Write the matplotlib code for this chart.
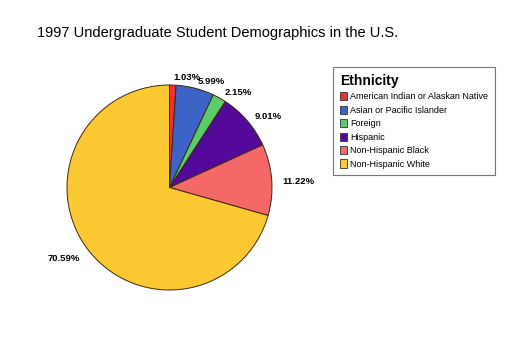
import matplotlib
matplotlib.use("Agg")
import matplotlib.pyplot as plt
import matplotlib.transforms as mtransforms
from matplotlib.patches import Patch

categories = ["American Indian or Alaskan Native", "Asian or Pacific Islander",
              "Foreign", "Hispanic", "Non-Hispanic Black", "Non-Hispanic White"]
values = [1.03, 5.99, 2.15, 9.01, 11.22, 70.59]
labels = ["1.03%", "5.99%", "2.15%", "9.01%", "11.22%", "70.59%"]
colors = ["#ec3137", "#3c64c8", "#5ccb6a", "#54099a", "#f56868", "#fcc832"]

W, H = 520, 357
fig = plt.figure(figsize=(W / 100, H / 100), dpi=100)
fig.patch.set_facecolor("white")

cx, cy, r = 169.5, 187.5, 102.5
ax = fig.add_axes([(cx - r) / W, (H - cy - r) / H, 2 * r / W, 2 * r / H])
ax.axis("off")

wedges, texts = ax.pie(values, labels=labels, colors=colors, startangle=90,
                       counterclock=False, radius=1, labeldistance=1.1,
                       wedgeprops=dict(edgecolor="#3a2a10", linewidth=0.7),
                       textprops=dict(fontsize=6.8, fontweight="bold",
                                      family="Liberation Sans"))
ax.set_xlim(-1, 1)
ax.set_ylim(-1, 1)
shift = mtransforms.ScaledTranslation(0, -3 / 100, fig.dpi_scale_trans)
for t in texts:
    t.set_transform(t.get_transform() + shift)

fig.text(37 / W, 1 - 33 / H, "1997 Undergraduate Student Demographics in the U.S.",
         fontsize=10.5, family="Liberation Sans", va="center", ha="left")

handles = [Patch(facecolor=c, edgecolor="#333333", linewidth=0.6) for c in colors]
leg = fig.legend(handles, categories, loc="upper left",
                 bbox_to_anchor=(333 / W, 1 - 67 / H),
                 title="Ethnicity",
                 prop=dict(family="Liberation Sans", size=6.5),
                 title_fontproperties=dict(family="Liberation Sans", size=10, weight="bold"),
                 handlelength=0.85, handleheight=1.0, handletextpad=0.3,
                 labelspacing=0.48, borderpad=0.75, fancybox=False,
                 borderaxespad=0, frameon=True)
leg._legend_box.align = "left"
leg.get_frame().set_edgecolor("#555555")
leg.get_frame().set_linewidth(0.8)

fig.savefig("out.png", dpi=100)
